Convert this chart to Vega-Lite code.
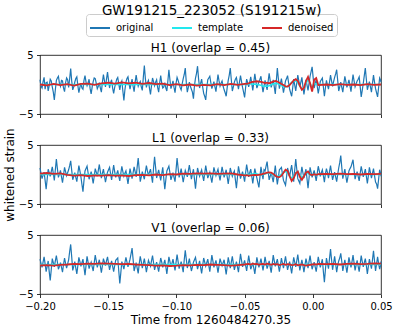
{
"$schema": "https://vega.github.io/schema/vega-lite/v6.json",
"padding": {"left": 2, "top": 4, "right": 5, "bottom": 4},
"title": {"text": "GW191215_223052 (S191215w)", "fontSize": 13.5, "offset": -4, "anchor": "middle", "dx": 14},
"config": {
 "font": "DejaVu Sans",
 "view": {"stroke": "#000", "strokeWidth": 0.8},
 "axis": {"grid": false, "domain": false, "tickColor": "#000", "tickSize": 3.5, "tickWidth": 0.8, "labelFontSize": 10, "labelColor": "#000", "titleFontSize": 12, "titleFontWeight": "normal", "titleColor": "#000", "labelPadding": 3.5, "titlePadding": 2, "labelFont": "DejaVu Sans", "titleFont": "DejaVu Sans", "labelFlush": false},
 "title": {"fontSize": 12, "fontWeight": "normal", "color": "#000", "font": "DejaVu Sans", "offset": 0},
 "legend": {"orient": "none", "legendX": 46, "legendY": -41, "direction": "horizontal", "symbolType": "stroke", "symbolSize": 400, "symbolStrokeWidth": 2, "labelFontSize": 10, "labelColor": "#000", "labelFont": "DejaVu Sans", "strokeColor": "#cccccc", "cornerRadius": 3, "padding": 3, "fillColor": "#ffffff", "columnPadding": 14, "labelOffset": 5, "title": null}
},
"bounds": "flush",
"spacing": 31,
"datasets": {
"noise": [
{"t":-0.2,"h":0.8,"l":1.1,"v":0.9},
{"t":-0.1985,"h":-0.6,"l":-0.7,"v":-0.5},
{"t":-0.197,"h":1.2,"l":0.4,"v":1.3},
{"t":-0.1955,"h":0.3,"l":-2.5,"v":-1.2},
{"t":-0.194,"h":-1.1,"l":0.9,"v":0.6},
{"t":-0.1925,"h":0.9,"l":-0.3,"v":-2.7},
{"t":-0.191,"h":-0.4,"l":1.3,"v":1.0},
{"t":-0.1895,"h":-2.6,"l":-1.0,"v":-0.4},
{"t":-0.188,"h":0.7,"l":2.6,"v":1.5},
{"t":-0.1865,"h":1.4,"l":-0.5,"v":-0.8},
{"t":-0.185,"h":-0.3,"l":0.7,"v":0.3},
{"t":-0.1835,"h":0.6,"l":-1.4,"v":-1.3},
{"t":-0.182,"h":-1.2,"l":1.2,"v":1.1},
{"t":-0.1805,"h":1.1,"l":-0.2,"v":-0.6},
{"t":-0.179,"h":-0.5,"l":0.8,"v":0.8},
{"t":-0.1775,"h":2.7,"l":2.3,"v":3.4},
{"t":-0.176,"h":-0.9,"l":-0.9,"v":-1.0},
{"t":-0.1745,"h":0.4,"l":0.3,"v":0.5},
{"t":-0.173,"h":1.3,"l":-1.2,"v":-1.6},
{"t":-0.1715,"h":-1.4,"l":1.5,"v":1.2},
{"t":-0.17,"h":0.2,"l":-0.4,"v":-0.3},
{"t":-0.1685,"h":-0.8,"l":-2.9,"v":0.9},
{"t":-0.167,"h":1.5,"l":0.6,"v":-1.8},
{"t":-0.1655,"h":-0.2,"l":1.4,"v":1.4},
{"t":-0.164,"h":0.9,"l":-0.8,"v":-0.7},
{"t":-0.1625,"h":-1.6,"l":0.5,"v":0.4},
{"t":-0.161,"h":0.5,"l":-1.5,"v":-1.1},
{"t":-0.1595,"h":1.0,"l":1.0,"v":1.6},
{"t":-0.158,"h":-0.7,"l":-0.3,"v":-0.5},
{"t":-0.1565,"h":0.3,"l":1.7,"v":0.8},
{"t":-0.155,"h":-1.3,"l":-0.6,"v":-1.4},
{"t":-0.1535,"h":1.7,"l":0.9,"v":1.0},
{"t":-0.152,"h":-0.4,"l":-1.3,"v":-0.2},
{"t":-0.1505,"h":2.1,"l":0.4,"v":1.3},
{"t":-0.149,"h":-0.6,"l":1.2,"v":-0.9},
{"t":-0.1475,"h":0.8,"l":-0.9,"v":0.6},
{"t":-0.146,"h":-1.5,"l":1.6,"v":-1.2},
{"t":-0.1445,"h":0.2,"l":-0.5,"v":0.7},
{"t":-0.143,"h":1.2,"l":0.7,"v":1.1},
{"t":-0.1415,"h":-0.9,"l":-1.1,"v":-3.2},
{"t":-0.14,"h":0.6,"l":1.4,"v":0.5},
{"t":-0.1385,"h":-2.7,"l":-0.3,"v":-0.8},
{"t":-0.137,"h":0.4,"l":0.6,"v":1.2},
{"t":-0.1355,"h":1.3,"l":-1.6,"v":-0.4},
{"t":-0.134,"h":-0.8,"l":1.0,"v":0.9},
{"t":-0.1325,"h":0.9,"l":-0.7,"v":2.8},
{"t":-0.131,"h":-1.2,"l":1.3,"v":-1.1},
{"t":-0.1295,"h":1.6,"l":-0.4,"v":0.3},
{"t":-0.128,"h":-0.3,"l":2.8,"v":-1.5},
{"t":-0.1265,"h":0.5,"l":-1.2,"v":1.4},
{"t":-0.125,"h":-1.0,"l":0.5,"v":-0.6},
{"t":-0.1235,"h":3.2,"l":-0.8,"v":1.0},
{"t":-0.122,"h":-0.5,"l":1.5,"v":-1.3},
{"t":-0.1205,"h":0.7,"l":-0.2,"v":0.7},
{"t":-0.119,"h":-1.7,"l":0.9,"v":-0.3},
{"t":-0.1175,"h":1.1,"l":-1.4,"v":1.5},
{"t":-0.116,"h":-0.2,"l":3.0,"v":-0.9},
{"t":-0.1145,"h":0.8,"l":-0.6,"v":0.4},
{"t":-0.113,"h":-1.3,"l":0.8,"v":-1.2},
{"t":-0.1115,"h":1.5,"l":-1.0,"v":1.1},
{"t":-0.11,"h":-0.6,"l":1.2,"v":-0.5},
{"t":-0.1085,"h":0.3,"l":-2.5,"v":0.8},
{"t":-0.107,"h":-1.1,"l":0.6,"v":-1.6},
{"t":-0.1055,"h":2.5,"l":1.4,"v":1.3},
{"t":-0.104,"h":-0.7,"l":-0.9,"v":-0.4},
{"t":-0.1025,"h":0.6,"l":0.3,"v":0.9},
{"t":-0.101,"h":-1.4,"l":-1.2,"v":-1.0},
{"t":-0.0995,"h":1.2,"l":2.8,"v":1.7},
{"t":-0.098,"h":0.1,"l":-0.5,"v":-0.7},
{"t":-0.0965,"h":-0.9,"l":1.0,"v":0.5},
{"t":-0.095,"h":1.0,"l":-1.3,"v":-1.3},
{"t":-0.0935,"h":2.8,"l":0.7,"v":2.4},
{"t":-0.092,"h":-1.3,"l":-0.4,"v":-0.6},
{"t":-0.0905,"h":0.4,"l":1.6,"v":1.0},
{"t":-0.089,"h":-0.8,"l":-0.8,"v":-1.1},
{"t":-0.0875,"h":-2.4,"l":0.9,"v":0.4},
{"t":-0.086,"h":1.1,"l":-2.4,"v":1.2},
{"t":-0.0845,"h":3.1,"l":1.1,"v":-0.8},
{"t":-0.083,"h":-0.6,"l":-0.3,"v":0.6},
{"t":-0.0815,"h":0.9,"l":0.8,"v":-1.5},
{"t":-0.08,"h":-1.5,"l":-1.1,"v":1.1},
{"t":-0.0785,"h":-2.6,"l":1.5,"v":-0.3},
{"t":-0.077,"h":0.8,"l":-0.6,"v":0.9},
{"t":-0.0755,"h":1.4,"l":0.4,"v":-1.2},
{"t":-0.074,"h":-0.7,"l":-1.4,"v":1.6},
{"t":-0.0725,"h":0.5,"l":1.2,"v":-0.5},
{"t":-0.071,"h":-1.2,"l":-0.2,"v":0.7},
{"t":-0.0695,"h":1.7,"l":0.9,"v":-1.4},
{"t":-0.068,"h":-0.3,"l":-1.0,"v":1.0},
{"t":-0.0665,"h":0.6,"l":1.3,"v":-0.2},
{"t":-0.065,"h":-0.9,"l":-0.5,"v":0.8},
{"t":-0.0635,"h":-2.0,"l":0.8,"v":-1.7},
{"t":-0.062,"h":0.7,"l":-1.6,"v":1.2},
{"t":-0.0605,"h":2.8,"l":1.1,"v":-0.6},
{"t":-0.059,"h":-1.1,"l":-0.3,"v":1.4},
{"t":-0.0575,"h":0.4,"l":0.6,"v":-0.9},
{"t":-0.056,"h":1.2,"l":-2.3,"v":0.5},
{"t":-0.0545,"h":-0.8,"l":1.4,"v":-1.3},
{"t":-0.053,"h":1.5,"l":-0.7,"v":1.8},
{"t":-0.0515,"h":-0.5,"l":0.5,"v":-0.4},
{"t":-0.05,"h":-2.2,"l":-1.2,"v":0.7},
{"t":-0.0485,"h":0.9,"l":1.7,"v":-1.1},
{"t":-0.047,"h":-0.4,"l":-0.4,"v":1.5},
{"t":-0.0455,"h":1.3,"l":0.9,"v":-0.8},
{"t":-0.044,"h":-1.0,"l":-1.5,"v":0.3},
{"t":-0.0425,"h":1.8,"l":1.0,"v":-1.6},
{"t":-0.041,"h":-0.6,"l":-0.6,"v":1.2},
{"t":-0.0395,"h":0.5,"l":-2.2,"v":-0.5},
{"t":-0.038,"h":1.4,"l":1.3,"v":1.0},
{"t":-0.0365,"h":-1.3,"l":-0.8,"v":-1.0},
{"t":-0.035,"h":0.7,"l":0.6,"v":1.3},
{"t":-0.0335,"h":-0.9,"l":2.2,"v":-0.7},
{"t":-0.032,"h":1.9,"l":-0.9,"v":0.6},
{"t":-0.0305,"h":-0.5,"l":0.4,"v":-1.4},
{"t":-0.029,"h":0.8,"l":-1.3,"v":1.6},
{"t":-0.0275,"h":-1.6,"l":1.5,"v":-0.3},
{"t":-0.026,"h":2.8,"l":-1.7,"v":0.9},
{"t":-0.0245,"h":-0.7,"l":0.8,"v":-1.2},
{"t":-0.023,"h":1.0,"l":1.2,"v":1.1},
{"t":-0.0215,"h":-1.4,"l":-1.0,"v":-0.6},
{"t":-0.02,"h":0.6,"l":-1.8,"v":1.4},
{"t":-0.0185,"h":1.5,"l":1.1,"v":-0.9},
{"t":-0.017,"h":-0.8,"l":-0.4,"v":0.5},
{"t":-0.0155,"h":-2.0,"l":1.6,"v":-1.5},
{"t":-0.014,"h":0.9,"l":-1.2,"v":1.2},
{"t":-0.0125,"h":-1.1,"l":2.6,"v":-0.4},
{"t":-0.011,"h":1.6,"l":-0.7,"v":1.7},
{"t":-0.0095,"h":-0.4,"l":-1.5,"v":-1.0},
{"t":-0.008,"h":1.2,"l":1.3,"v":0.8},
{"t":-0.0065,"h":-1.7,"l":-0.6,"v":-1.3},
{"t":-0.005,"h":0.8,"l":0.9,"v":1.0},
{"t":-0.0035,"h":-1.0,"l":-2.3,"v":-0.6},
{"t":-0.002,"h":1.4,"l":1.2,"v":1.5},
{"t":-0.0005,"h":3.0,"l":-0.5,"v":-0.8},
{"t":0.001,"h":-0.6,"l":0.7,"v":0.4},
{"t":0.0025,"h":0.9,"l":-1.1,"v":-1.2},
{"t":0.004,"h":-1.5,"l":1.4,"v":1.3},
{"t":0.0055,"h":0.5,"l":-0.3,"v":-0.5},
{"t":0.007,"h":1.1,"l":0.8,"v":0.9},
{"t":0.0085,"h":-2.0,"l":-1.3,"v":-3.0},
{"t":0.01,"h":0.7,"l":1.0,"v":1.1},
{"t":0.0115,"h":-0.8,"l":-0.6,"v":-0.7},
{"t":0.013,"h":1.6,"l":1.5,"v":2.6},
{"t":0.0145,"h":-0.3,"l":-0.9,"v":-0.9},
{"t":0.016,"h":1.2,"l":0.4,"v":1.4},
{"t":0.0175,"h":2.5,"l":-1.2,"v":-1.3},
{"t":0.019,"h":-1.1,"l":1.1,"v":0.6},
{"t":0.0205,"h":0.4,"l":3.2,"v":1.9},
{"t":0.022,"h":-1.3,"l":-0.7,"v":-1.1},
{"t":0.0235,"h":1.4,"l":0.9,"v":0.8},
{"t":0.025,"h":-0.5,"l":-1.4,"v":-1.4},
{"t":0.0265,"h":0.8,"l":0.6,"v":1.2},
{"t":0.028,"h":-1.2,"l":1.3,"v":-0.5},
{"t":0.0295,"h":1.7,"l":2.5,"v":1.6},
{"t":0.031,"h":-0.4,"l":-0.8,"v":-1.0},
{"t":0.0325,"h":0.6,"l":0.5,"v":0.7},
{"t":0.034,"h":1.3,"l":-1.1,"v":-1.2},
{"t":0.0355,"h":-2.1,"l":1.4,"v":1.5},
{"t":0.037,"h":0.2,"l":-0.4,"v":-0.4},
{"t":0.0385,"h":2.8,"l":0.9,"v":1.0},
{"t":0.04,"h":-0.9,"l":-1.5,"v":-1.6},
{"t":0.0415,"h":0.5,"l":1.2,"v":0.9},
{"t":0.043,"h":-1.3,"l":-0.6,"v":-0.7},
{"t":0.0445,"h":1.6,"l":1.0,"v":2.3},
{"t":0.046,"h":-0.7,"l":-1.3,"v":-1.1},
{"t":0.0475,"h":-2.1,"l":-2.4,"v":1.3},
{"t":0.049,"h":1.1,"l":0.8,"v":-0.8},
{"t":0.05,"h":0.4,"l":-0.3,"v":0.5},
{"t":-0.19925,"h":-0.3,"l":0.2,"v":0.2},
{"t":-0.19775,"h":0.5,"l":-0.1,"v":0.4},
{"t":-0.19625,"h":-0.8,"l":-1.0,"v":0.1},
{"t":-0.19475,"h":0.4,"l":-0.8,"v":-0.3},
{"t":-0.19325,"h":-0.2,"l":0.3,"v":-1.2},
{"t":-0.19175,"h":0.6,"l":0.5,"v":-0.9},
{"t":-0.19025,"h":-1.3,"l":0.2,"v":0.3},
{"t":-0.18875,"h":-0.9,"l":0.8,"v":0.6},
{"t":-0.18725,"h":1.1,"l":1.0,"v":0.4},
{"t":-0.18575,"h":0.2,"l":0.1,"v":-0.3},
{"t":-0.18425,"h":0.7,"l":-0.4,"v":-0.5},
{"t":-0.18275,"h":-0.6,"l":-0.1,"v":0.0},
{"t":-0.18125,"h":0.3,"l":0.5,"v":0.2},
{"t":-0.17975,"h":0.8,"l":0.3,"v":0.1},
{"t":-0.17825,"h":1.0,"l":1.5,"v":2.2},
{"t":-0.17675,"h":0.6,"l":0.7,"v":1.3},
{"t":-0.17525,"h":-0.4,"l":-0.3,"v":-0.3},
{"t":-0.17375,"h":1.0,"l":-0.5,"v":-0.6},
{"t":-0.17225,"h":-0.2,"l":0.2,"v":-0.2},
{"t":-0.17075,"h":-0.5,"l":0.6,"v":0.5},
{"t":-0.16925,"h":-0.6,"l":-1.7,"v":0.3},
{"t":-0.16775,"h":0.7,"l":-1.0,"v":-0.5},
{"t":-0.16625,"h":0.4,"l":1.0,"v":-0.2},
{"t":-0.16475,"h":0.3,"l":0.3,"v":0.4},
{"t":-0.16325,"h":-0.7,"l":-0.2,"v":-0.1},
{"t":-0.16175,"h":-0.4,"l":-0.5,"v":-0.4},
{"t":-0.16025,"h":1.1,"l":-0.3,"v":0.3},
{"t":-0.15875,"h":0.2,"l":0.4,"v":0.6},
{"t":-0.15725,"h":-0.3,"l":0.7,"v":0.2},
{"t":-0.15575,"h":-0.6,"l":0.5,"v":-0.3},
{"t":-0.15425,"h":0.4,"l":0.2,"v":-0.2},
{"t":-0.15275,"h":0.6,"l":-0.2,"v":0.4},
{"t":-0.15125,"h":0.9,"l":-0.4,"v":0.6},
{"t":-0.14975,"h":0.7,"l":0.8,"v":0.2},
{"t":-0.14825,"h":0.3,"l":0.1,"v":-0.1},
{"t":-0.14675,"h":-0.6,"l":0.4,"v":-0.3},
{"t":-0.14525,"h":-0.5,"l":0.5,"v":-0.2},
{"t":-0.14375,"h":0.9,"l":0.1,"v":0.9},
{"t":-0.14225,"h":0.1,"l":-0.3,"v":-1.1},
{"t":-0.14075,"h":0.2,"l":0.2,"v":-1.4},
{"t":-0.13925,"h":-1.1,"l":0.5,"v":-0.1},
{"t":-0.13775,"h":-0.9,"l":0.2,"v":0.3},
{"t":-0.13625,"h":1.0,"l":-0.5,"v":0.4},
{"t":-0.13475,"h":0.2,"l":-0.3,"v":0.2},
{"t":-0.13325,"h":0.1,"l":0.2,"v":1.8},
{"t":-0.13175,"h":-0.3,"l":0.3,"v":0.9},
{"t":-0.13025,"h":0.4,"l":0.5,"v":-0.4},
{"t":-0.12875,"h":0.5,"l":1.3,"v":-0.6},
{"t":-0.12725,"h":0.2,"l":0.8,"v":0.1},
{"t":-0.12575,"h":-0.4,"l":-0.4,"v":0.5},
{"t":-0.12425,"h":1.2,"l":-0.2,"v":0.2},
{"t":-0.12275,"h":1.0,"l":0.4,"v":-0.1},
{"t":-0.12125,"h":0.3,"l":0.6,"v":-0.3},
{"t":-0.11975,"h":-0.6,"l":0.4,"v":0.2},
{"t":-0.11825,"h":-0.2,"l":-0.3,"v":0.6},
{"t":-0.11675,"h":0.5,"l":1.1,"v":0.3},
{"t":-0.11525,"h":0.4,"l":1.2,"v":-0.2},
{"t":-0.11375,"h":-0.5,"l":0.1,"v":-0.4},
{"t":-0.11225,"h":0.3,"l":-0.1,"v":0.0},
{"t":-0.11075,"h":0.2,"l":0.1,"v":0.4},
{"t":-0.10925,"h":-0.4,"l":-0.7,"v":0.1},
{"t":-0.10775,"h":-0.6,"l":-0.9,"v":-0.4},
{"t":-0.10625,"h":0.6,"l":1.0,"v":-0.1},
{"t":-0.10475,"h":0.8,"l":0.3,"v":0.5},
{"t":-0.10325,"h":-0.1,"l":-0.3,"v":0.2},
{"t":-0.10175,"h":-0.5,"l":-0.5,"v":-0.1},
{"t":-0.10025,"h":0.2,"l":0.8,"v":0.4},
{"t":-0.09875,"h":0.7,"l":1.1,"v":0.5},
{"t":-0.09725,"h":-0.5,"l":0.2,"v":-0.1},
{"t":-0.09575,"h":0.1,"l":-0.2,"v":-0.4},
{"t":-0.09425,"h":1.7,"l":-0.3,"v":0.8},
{"t":-0.09275,"h":0.4,"l":0.2,"v":0.9},
{"t":-0.09125,"h":-0.5,"l":0.6,"v":0.2},
{"t":-0.08975,"h":-0.3,"l":0.4,"v":-0.1},
{"t":-0.08825,"h":-1.3,"l":0.1,"v":-0.4},
{"t":-0.08675,"h":-0.2,"l":-0.8,"v":0.8},
{"t":-0.08525,"h":1.9,"l":-0.6,"v":0.2},
{"t":-0.08375,"h":1.0,"l":0.4,"v":-0.1},
{"t":-0.08225,"h":0.2,"l":0.3,"v":-0.5},
{"t":-0.08075,"h":-0.4,"l":-0.2,"v":-0.2},
{"t":-0.07925,"h":-2.0,"l":0.2,"v":0.4},
{"t":-0.07775,"h":-0.7,"l":0.5,"v":0.3},
{"t":-0.07625,"h":1.1,"l":-0.1,"v":-0.2},
{"t":-0.07475,"h":0.3,"l":-0.5,"v":0.2},
{"t":-0.07325,"h":-0.1,"l":-0.1,"v":0.6},
{"t":-0.07175,"h":-0.4,"l":0.5,"v":0.1},
{"t":-0.07025,"h":0.3,"l":0.4,"v":-0.3},
{"t":-0.06875,"h":0.6,"l":-0.1,"v":-0.2},
{"t":-0.06725,"h":0.2,"l":0.2,"v":0.4},
{"t":-0.06575,"h":-0.3,"l":0.4,"v":0.3},
{"t":-0.06425,"h":-1.4,"l":0.2,"v":-0.5},
{"t":-0.06275,"h":-0.5,"l":-0.4,"v":-0.3},
{"t":-0.06125,"h":1.6,"l":-0.3,"v":0.3},
{"t":-0.05975,"h":0.8,"l":0.4,"v":0.4},
{"t":-0.05825,"h":-0.4,"l":0.2,"v":0.2},
{"t":-0.05675,"h":0.9,"l":-0.9,"v":-0.2},
{"t":-0.05525,"h":0.2,"l":-0.5,"v":-0.4},
{"t":-0.05375,"h":0.4,"l":0.4,"v":0.3},
{"t":-0.05225,"h":0.5,"l":-0.1,"v":0.7},
{"t":-0.05075,"h":-1.3,"l":-0.3,"v":0.1},
{"t":-0.04925,"h":-0.5,"l":0.3,"v":-0.2},
{"t":-0.04775,"h":0.3,"l":0.6,"v":0.2},
{"t":-0.04625,"h":0.4,"l":0.3,"v":0.4},
{"t":-0.04475,"h":0.2,"l":-0.3,"v":-0.3},
{"t":-0.04325,"h":0.4,"l":-0.2,"v":-0.6},
{"t":-0.04175,"h":0.6,"l":0.2,"v":-0.2},
{"t":-0.04025,"h":-0.1,"l":-1.4,"v":0.3},
{"t":-0.03875,"h":0.9,"l":-0.4,"v":0.2},
{"t":-0.03725,"h":-0.1,"l":0.2,"v":0.0},
{"t":-0.03575,"h":-0.3,"l":0.8,"v":0.1},
{"t":-0.03425,"h":-0.1,"l":1.4,"v":0.3},
{"t":-0.03275,"h":0.5,"l":0.6,"v":-0.1},
{"t":-0.03125,"h":0.7,"l":-0.3,"v":-0.4},
{"t":-0.02975,"h":0.1,"l":-0.5,"v":0.1},
{"t":-0.02825,"h":-0.4,"l":0.1,"v":0.6},
{"t":-0.02675,"h":0.6,"l":-0.2,"v":0.3},
{"t":-0.02525,"h":1.0,"l":-0.5,"v":-0.2},
{"t":-0.02375,"h":0.2,"l":1.0,"v":-0.1},
{"t":-0.02225,"h":-0.2,"l":0.1,"v":0.2},
{"t":-0.02075,"h":-0.4,"l":-1.4,"v":0.4},
{"t":-0.01925,"h":1.0,"l":-0.4,"v":0.2},
{"t":-0.01775,"h":0.3,"l":0.4,"v":-0.2},
{"t":-0.01625,"h":-1.4,"l":0.7,"v":-0.5},
{"t":-0.01475,"h":-0.6,"l":0.2,"v":-0.1},
{"t":-0.01325,"h":-0.1,"l":0.8,"v":0.4},
{"t":-0.01175,"h":0.3,"l":0.9,"v":0.6},
{"t":-0.01025,"h":0.6,"l":-1.1,"v":0.3},
{"t":-0.00875,"h":0.4,"l":0.0,"v":-0.1},
{"t":-0.00725,"h":-0.3,"l":0.3,"v":-0.2},
{"t":-0.00575,"h":-0.5,"l":0.2,"v":-0.1},
{"t":-0.00425,"h":-0.1,"l":-0.7,"v":0.2},
{"t":-0.00275,"h":0.2,"l":-0.6,"v":0.5},
{"t":-0.00125,"h":2.2,"l":0.4,"v":0.3},
{"t":0.00025,"h":1.2,"l":0.1,"v":-0.2},
{"t":0.00175,"h":0.1,"l":-0.2,"v":-0.4},
{"t":0.00325,"h":-0.3,"l":0.2,"v":0.0},
{"t":0.00475,"h":-0.5,"l":0.6,"v":0.4},
{"t":0.00625,"h":0.8,"l":0.3,"v":0.2},
{"t":0.00775,"h":-0.4,"l":-0.2,"v":-1.2},
{"t":0.00925,"h":-0.6,"l":0.1,"v":-0.9},
{"t":0.01075,"h":-0.1,"l":0.3,"v":0.2},
{"t":0.01225,"h":0.4,"l":0.5,"v":1.0},
{"t":0.01375,"h":0.6,"l":0.3,"v":0.8},
{"t":0.01525,"h":0.5,"l":-0.2,"v":0.2},
{"t":0.01675,"h":1.8,"l":-0.4,"v":0.1},
{"t":0.01825,"h":0.7,"l":0.0,"v":-0.2},
{"t":0.01975,"h":-0.4,"l":2.0,"v":1.1},
{"t":0.02125,"h":-0.5,"l":1.2,"v":0.5},
{"t":0.02275,"h":0.1,"l":0.1,"v":-0.1},
{"t":0.02425,"h":0.5,"l":-0.3,"v":-0.3},
{"t":0.02575,"h":0.1,"l":-0.4,"v":-0.1},
{"t":0.02725,"h":-0.2,"l":1.0,"v":0.3},
{"t":0.02875,"h":0.3,"l":1.9,"v":0.5},
{"t":0.03025,"h":0.6,"l":0.8,"v":0.3},
{"t":0.03175,"h":0.1,"l":-0.1,"v":-0.1},
{"t":0.03325,"h":0.9,"l":-0.3,"v":-0.3},
{"t":0.03475,"h":-0.4,"l":0.2,"v":0.1},
{"t":0.03625,"h":-1.0,"l":0.5,"v":0.5},
{"t":0.03775,"h":1.5,"l":0.2,"v":0.3},
{"t":0.03925,"h":0.9,"l":-0.3,"v":-0.2},
{"t":0.04075,"h":-0.2,"l":-0.2,"v":-0.3},
{"t":0.04225,"h":-0.4,"l":0.3,"v":0.1},
{"t":0.04375,"h":0.2,"l":0.2,"v":0.8},
{"t":0.04525,"h":0.4,"l":-0.2,"v":0.6},
{"t":0.04675,"h":-1.4,"l":-1.6,"v":0.1},
{"t":0.04825,"h":-0.5,"l":-0.8,"v":0.2},
{"t":0.04975,"h":0.7,"l":0.2,"v":-0.1}
],
"sig": [
{"t":-0.2,"hd":0.0,"ht":0,"ld":0.15,"lt":0,"vd":-0.15,"vt":0},
{"t":-0.195,"hd":-0.15,"ht":0,"ld":0.25,"lt":0,"vd":-0.1,"vt":0},
{"t":-0.19,"hd":0.1,"ht":0,"ld":0.1,"lt":0,"vd":-0.2,"vt":0},
{"t":-0.185,"hd":-0.1,"ht":0,"ld":0.2,"lt":0,"vd":-0.05,"vt":0},
{"t":-0.18,"hd":0.05,"ht":0,"ld":-0.05,"lt":0,"vd":0.0,"vt":0},
{"t":-0.175,"hd":-0.2,"ht":0,"ld":-0.2,"lt":0,"vd":0.1,"vt":0},
{"t":-0.17,"hd":0.1,"ht":0,"ld":-0.1,"lt":0,"vd":0.05,"vt":0},
{"t":-0.165,"hd":0.15,"ht":0,"ld":-0.25,"lt":0,"vd":0.15,"vt":0},
{"t":-0.16,"hd":-0.05,"ht":0,"ld":-0.15,"lt":0,"vd":0.1,"vt":0},
{"t":-0.155,"hd":0.2,"ht":0,"ld":-0.2,"lt":0,"vd":0.2,"vt":0},
{"t":-0.15,"hd":0.3,"ht":0,"ld":-0.1,"lt":0,"vd":0.15,"vt":0},
{"t":-0.145,"hd":0.15,"ht":0,"ld":-0.2,"lt":0,"vd":0.1,"vt":0},
{"t":-0.14,"hd":0.35,"ht":0,"ld":-0.15,"lt":0,"vd":0.05,"vt":0},
{"t":-0.135,"hd":0.2,"ht":0,"ld":-0.25,"lt":0,"vd":0.1,"vt":0},
{"t":-0.13,"hd":0.3,"ht":0,"ld":-0.1,"lt":0,"vd":0.0,"vt":0},
{"t":-0.125,"hd":0.1,"ht":0,"ld":-0.05,"lt":0,"vd":-0.05,"vt":0},
{"t":-0.12,"hd":0.25,"ht":0,"ld":-0.15,"lt":0,"vd":-0.1,"vt":0},
{"t":-0.115,"hd":0.05,"ht":0,"ld":0.0,"lt":0,"vd":-0.2,"vt":0},
{"t":-0.11,"hd":0.15,"ht":0,"ld":-0.1,"lt":0,"vd":-0.15,"vt":0},
{"t":-0.105,"hd":-0.1,"ht":0,"ld":0.05,"lt":0,"vd":-0.25,"vt":0},
{"t":-0.1,"hd":0.05,"ht":0,"ld":0.0,"lt":0,"vd":-0.2,"vt":0},
{"t":-0.095,"hd":-0.15,"ht":0,"ld":0.15,"lt":0,"vd":-0.1,"vt":0},
{"t":-0.09,"hd":0.0,"ht":0,"ld":0.1,"lt":0,"vd":-0.15,"vt":0},
{"t":-0.085,"hd":-0.2,"ht":0,"ld":0.2,"lt":0,"vd":-0.05,"vt":0},
{"t":-0.08,"hd":-0.05,"ht":0,"ld":0.15,"lt":0,"vd":-0.1,"vt":0},
{"t":-0.075,"hd":-0.15,"ht":0,"ld":0.2,"lt":0,"vd":0.0,"vt":0},
{"t":-0.07,"hd":0.05,"ht":0,"ld":0.1,"lt":0,"vd":-0.05,"vt":0},
{"t":-0.065,"hd":-0.1,"ht":0,"ld":0.15,"lt":0,"vd":-0.1,"vt":0},
{"t":-0.06,"hd":0.1,"ht":0,"ld":0.2,"lt":0,"vd":-0.2,"vt":0},
{"t":-0.055,"hd":-0.05,"ht":0,"ld":0.0,"lt":0,"vd":-0.1,"vt":0},
{"t":-0.05,"hd":0.1,"ht":0,"ld":-0.15,"lt":0,"vd":0.0,"vt":0},
{"t":-0.0485,"hd":0.1,"ht":0.0,"ld":-0.1,"lt":0.0,"vd":0.05,"vt":0},
{"t":-0.047,"hd":0.2,"ht":0.05,"ld":-0.2,"lt":0.0,"vd":0.1,"vt":0},
{"t":-0.0455,"hd":0.35,"ht":0.1,"ld":-0.15,"lt":0.05,"vd":0.0,"vt":0},
{"t":-0.044,"hd":0.45,"ht":0.1,"ld":-0.1,"lt":0.1,"vd":0.15,"vt":0},
{"t":-0.0425,"hd":0.5,"ht":0.05,"ld":-0.05,"lt":0.15,"vd":0.05,"vt":0},
{"t":-0.041,"hd":0.55,"ht":0.0,"ld":-0.1,"lt":0.1,"vd":0.1,"vt":0},
{"t":-0.0395,"hd":0.5,"ht":-0.05,"ld":-0.05,"lt":0.0,"vd":-0.05,"vt":0},
{"t":-0.038,"hd":0.45,"ht":-0.15,"ld":0.0,"lt":-0.1,"vd":0.05,"vt":0},
{"t":-0.0365,"hd":0.35,"ht":-0.25,"ld":0.1,"lt":-0.05,"vd":0.1,"vt":0},
{"t":-0.035,"hd":0.25,"ht":-0.3,"ld":0.2,"lt":0.1,"vd":0.0,"vt":0},
{"t":-0.0335,"hd":0.3,"ht":-0.3,"ld":0.3,"lt":0.2,"vd":0.15,"vt":0},
{"t":-0.032,"hd":0.2,"ht":-0.2,"ld":0.35,"lt":0.25,"vd":0.05,"vt":0},
{"t":-0.0305,"hd":0.35,"ht":-0.05,"ld":0.3,"lt":0.15,"vd":-0.05,"vt":0},
{"t":-0.029,"hd":0.5,"ht":0.1,"ld":0.1,"lt":-0.05,"vd":0.1,"vt":0},
{"t":-0.0275,"hd":0.6,"ht":0.2,"ld":-0.2,"lt":-0.25,"vd":0.0,"vt":0},
{"t":-0.026,"hd":0.5,"ht":0.15,"ld":-0.4,"lt":-0.3,"vd":0.05,"vt":0},
{"t":-0.0245,"hd":0.3,"ht":0.0,"ld":-0.45,"lt":-0.2,"vd":-0.1,"vt":0},
{"t":-0.023,"hd":0.1,"ht":-0.2,"ld":-0.2,"lt":0.05,"vd":0.0,"vt":0},
{"t":-0.0215,"hd":-0.1,"ht":-0.35,"ld":0.3,"lt":0.35,"vd":0.1,"vt":0},
{"t":-0.02,"hd":-0.3,"ht":-0.4,"ld":0.8,"lt":0.5,"vd":-0.05,"vt":0},
{"t":-0.0185,"hd":-0.35,"ht":-0.3,"ld":0.6,"lt":0.3,"vd":0.05,"vt":0},
{"t":-0.017,"hd":-0.1,"ht":0.0,"ld":-0.3,"lt":-0.2,"vd":0.0,"vt":0},
{"t":-0.0155,"hd":0.3,"ht":0.35,"ld":-1.1,"lt":-0.6,"vd":-0.1,"vt":0},
{"t":-0.014,"hd":0.7,"ht":0.6,"ld":-0.6,"lt":-0.3,"vd":-0.05,"vt":0},
{"t":-0.0125,"hd":0.9,"ht":0.6,"ld":0.2,"lt":0.3,"vd":0.05,"vt":0},
{"t":-0.011,"hd":0.6,"ht":0.3,"ld":0.5,"lt":0.5,"vd":-0.15,"vt":0},
{"t":-0.0095,"hd":-0.2,"ht":-0.3,"ld":-0.4,"lt":-0.1,"vd":-0.05,"vt":0},
{"t":-0.008,"hd":-0.9,"ht":-0.7,"ld":-0.9,"lt":-0.5,"vd":0.0,"vt":0},
{"t":-0.0065,"hd":-0.6,"ht":-0.6,"ld":-0.3,"lt":-0.2,"vd":-0.1,"vt":0},
{"t":-0.005,"hd":0.6,"ht":0.2,"ld":0.3,"lt":0.3,"vd":-0.2,"vt":0},
{"t":-0.0035,"hd":1.3,"ht":0.8,"ld":0.5,"lt":0.2,"vd":-0.1,"vt":0},
{"t":-0.002,"hd":0.2,"ht":0.3,"ld":0.0,"lt":-0.1,"vd":-0.05,"vt":0},
{"t":-0.0005,"hd":-1.2,"ht":-0.6,"ld":-0.1,"lt":0.0,"vd":0.0,"vt":0},
{"t":0.001,"hd":0.8,"ht":0.2,"ld":0.05,"lt":0.0,"vd":0.05,"vt":0},
{"t":0.0025,"hd":1.1,"ht":0.1,"ld":-0.05,"lt":0.0,"vd":0.0,"vt":0},
{"t":0.004,"hd":-0.1,"ht":0.0,"ld":0.05,"lt":0.0,"vd":0.1,"vt":0},
{"t":0.01,"hd":0.0,"ht":0,"ld":0.1,"lt":0,"vd":0.05,"vt":0},
{"t":0.015,"hd":-0.1,"ht":0,"ld":0.05,"lt":0,"vd":0.1,"vt":0},
{"t":0.02,"hd":0.05,"ht":0,"ld":0.15,"lt":0,"vd":0.0,"vt":0},
{"t":0.025,"hd":-0.05,"ht":0,"ld":0.05,"lt":0,"vd":0.1,"vt":0},
{"t":0.03,"hd":0.0,"ht":0,"ld":0.1,"lt":0,"vd":0.15,"vt":0},
{"t":0.035,"hd":-0.1,"ht":0,"ld":0.0,"lt":0,"vd":0.05,"vt":0},
{"t":0.04,"hd":0.05,"ht":0,"ld":0.1,"lt":0,"vd":0.1,"vt":0},
{"t":0.045,"hd":-0.05,"ht":0,"ld":0.05,"lt":0,"vd":0.2,"vt":0},
{"t":0.05,"hd":0.0,"ht":0,"ld":0.1,"lt":0,"vd":0.15,"vt":0}
]
},
"vconcat": [
{
 "width": 341, "height": 59,
 "title": {"text": "H1 (overlap = 0.45)", "offset": -5},
 "layer": [
  {"data": {"name": "noise"}, "mark": {"type": "line", "strokeWidth": 1.2},
   "encoding": {
    "x": {"field": "t", "type": "quantitative", "scale": {"domain": [-0.2, 0.05], "nice": false, "zero": false}, "axis": {"values": [-0.2, -0.15, -0.1, -0.05, 0, 0.05], "labels": false, "title": null}},
    "y": {"field": "h", "type": "quantitative", "scale": {"domain": [-5, 5], "nice": false}, "axis": {"values": [-5, 0, 5], "title": null}},
    "color": {"datum": "original", "scale": {"domain": ["original", "template", "denoised"], "range": ["#1f77b4", "#22e8ee", "#d62728"]}}
   }},
  {"data": {"name": "sig"}, "mark": {"type": "line", "strokeWidth": 1.5},
   "encoding": {"x": {"field": "t", "type": "quantitative"}, "y": {"field": "ht", "type": "quantitative"}, "color": {"datum": "template"}}},
  {"data": {"name": "sig"}, "mark": {"type": "line", "strokeWidth": 1.8},
   "encoding": {"x": {"field": "t", "type": "quantitative"}, "y": {"field": "hd", "type": "quantitative"}, "color": {"datum": "denoised"}}}
 ]
},
{
 "width": 341, "height": 59,
 "title": {"text": "L1 (overlap = 0.33)", "offset": -17},
 "layer": [
  {"data": {"name": "noise"}, "mark": {"type": "line", "strokeWidth": 1.2},
   "encoding": {
    "x": {"field": "t", "type": "quantitative", "scale": {"domain": [-0.2, 0.05], "nice": false, "zero": false}, "axis": {"values": [-0.2, -0.15, -0.1, -0.05, 0, 0.05], "labels": false, "title": null}},
    "y": {"field": "l", "type": "quantitative", "scale": {"domain": [-5, 5], "nice": false}, "axis": {"values": [-5, 0, 5], "title": "whitened strain"}},
    "color": {"datum": "original", "scale": {"domain": ["original", "template", "denoised"], "range": ["#1f77b4", "#22e8ee", "#d62728"]}}
   }},
  {"data": {"name": "sig"}, "mark": {"type": "line", "strokeWidth": 1.5},
   "encoding": {"x": {"field": "t", "type": "quantitative"}, "y": {"field": "lt", "type": "quantitative"}, "color": {"datum": "template"}}},
  {"data": {"name": "sig"}, "mark": {"type": "line", "strokeWidth": 1.8},
   "encoding": {"x": {"field": "t", "type": "quantitative"}, "y": {"field": "ld", "type": "quantitative"}, "color": {"datum": "denoised"}}}
 ]
},
{
 "width": 341, "height": 59,
 "title": {"text": "V1 (overlap = 0.06)", "offset": -5},
 "layer": [
  {"data": {"name": "noise"}, "mark": {"type": "line", "strokeWidth": 1.2},
   "encoding": {
    "x": {"field": "t", "type": "quantitative", "scale": {"domain": [-0.2, 0.05], "nice": false, "zero": false}, "axis": {"values": [-0.2, -0.15, -0.1, -0.05, 0, 0.05], "format": ".2f", "title": "Time from 1260484270.35", "titlePadding": 3}},
    "y": {"field": "v", "type": "quantitative", "scale": {"domain": [-5, 5], "nice": false}, "axis": {"values": [-5, 0, 5], "title": null}},
    "color": {"datum": "original", "scale": {"domain": ["original", "template", "denoised"], "range": ["#1f77b4", "#22e8ee", "#d62728"]}}
   }},
  {"data": {"name": "sig"}, "mark": {"type": "line", "strokeWidth": 1.5},
   "encoding": {"x": {"field": "t", "type": "quantitative"}, "y": {"field": "vt", "type": "quantitative"}, "color": {"datum": "template"}}},
  {"data": {"name": "sig"}, "mark": {"type": "line", "strokeWidth": 1.8},
   "encoding": {"x": {"field": "t", "type": "quantitative"}, "y": {"field": "vd", "type": "quantitative"}, "color": {"datum": "denoised"}}}
 ]
}
]
}
